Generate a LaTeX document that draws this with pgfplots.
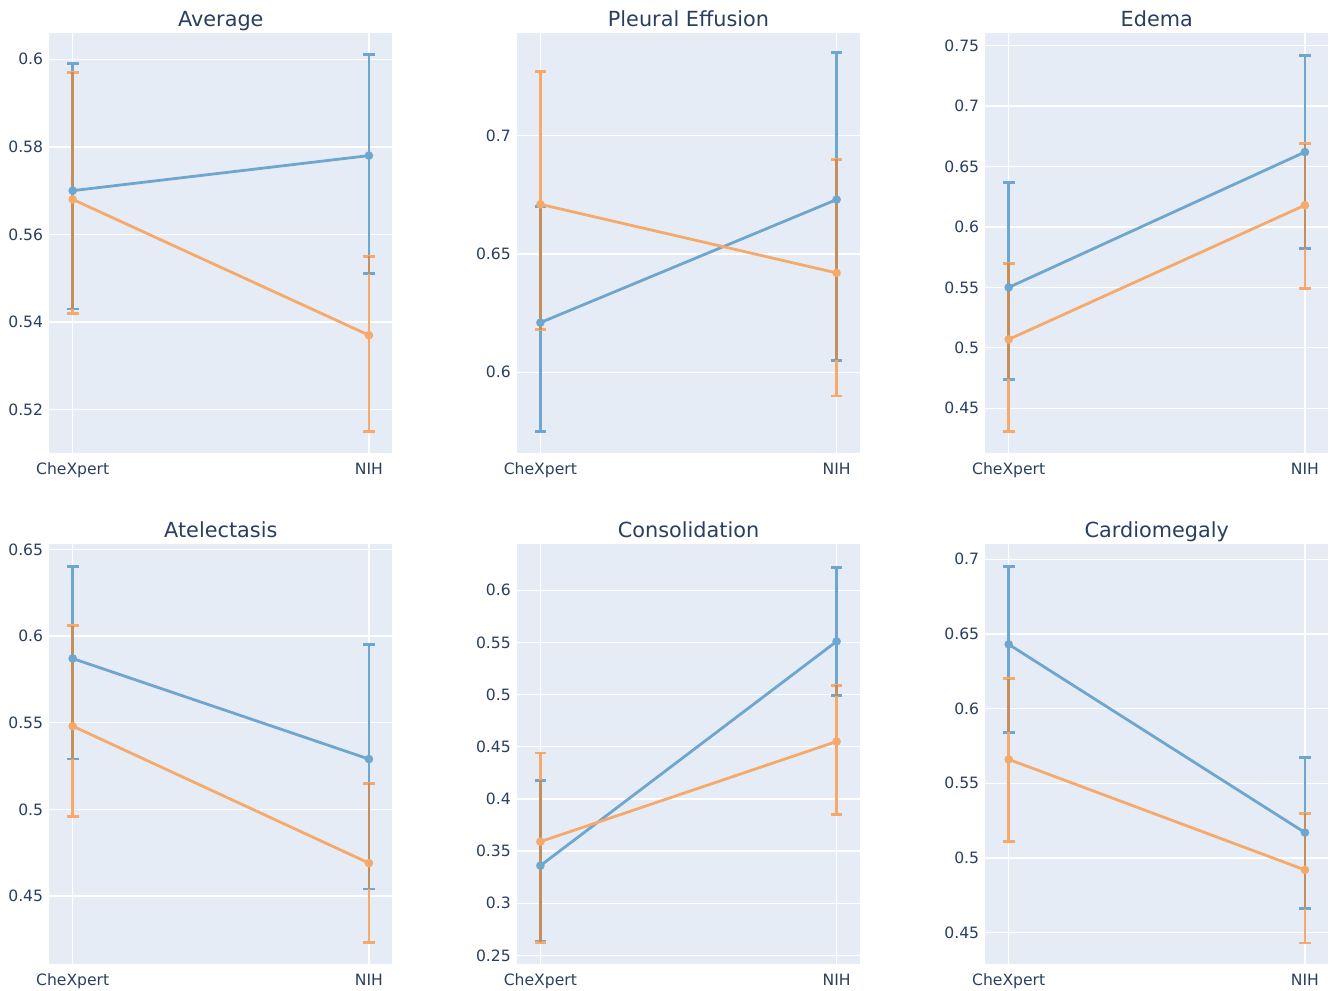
\documentclass[border=0pt]{standalone}
\usepackage{fontspec}
\setmainfont{DejaVu Sans}
\usepackage{pgfplots}
\usepackage{pgfplotstable}
\pgfplotsset{compat=1.18}
\definecolor{plotbg}{HTML}{E5ECF6}
\definecolor{txt}{HTML}{2A3F5F}
\definecolor{cb}{RGB}{110,166,206}
\definecolor{co}{RGB}{245,170,107}
\definecolor{cov}{RGB}{197,143,91}
\newcommand\ticksize{\fontsize{15.6bp}{18bp}\selectfont}
\newcommand\titlesize{\fontsize{20.8bp}{24bp}\selectfont}

% x: 0 = CheXpert, 1 = NIH ; columns: value, lower, upper
\pgfplotstableread[row sep=\\]{x y lo hi\\ 0 0.570 0.543 0.599\\ 1 0.578 0.551 0.601\\}\AvgB
\pgfplotstableread[row sep=\\]{x y lo hi\\ 0 0.568 0.542 0.597\\ 1 0.537 0.515 0.555\\}\AvgO
\pgfplotstableread[row sep=\\]{x y lo hi\\ 0 0.621 0.575 0.670\\ 1 0.673 0.605 0.735\\}\PleB
\pgfplotstableread[row sep=\\]{x y lo hi\\ 0 0.671 0.618 0.727\\ 1 0.642 0.590 0.690\\}\PleO
\pgfplotstableread[row sep=\\]{x y lo hi\\ 0 0.550 0.474 0.637\\ 1 0.662 0.582 0.742\\}\EdeB
\pgfplotstableread[row sep=\\]{x y lo hi\\ 0 0.507 0.431 0.570\\ 1 0.618 0.549 0.669\\}\EdeO
\pgfplotstableread[row sep=\\]{x y lo hi\\ 0 0.587 0.529 0.640\\ 1 0.529 0.454 0.595\\}\AteB
\pgfplotstableread[row sep=\\]{x y lo hi\\ 0 0.548 0.496 0.606\\ 1 0.469 0.423 0.515\\}\AteO
\pgfplotstableread[row sep=\\]{x y lo hi\\ 0 0.336 0.263 0.418\\ 1 0.551 0.499 0.622\\}\ConB
\pgfplotstableread[row sep=\\]{x y lo hi\\ 0 0.359 0.262 0.444\\ 1 0.455 0.385 0.509\\}\ConO
\pgfplotstableread[row sep=\\]{x y lo hi\\ 0 0.643 0.584 0.695\\ 1 0.517 0.466 0.567\\}\CarB
\pgfplotstableread[row sep=\\]{x y lo hi\\ 0 0.566 0.511 0.620\\ 1 0.492 0.443 0.530\\}\CarO
% overlap of the two error bars (drawn darker, as the translucent orange over blue)
\pgfplotstableread[row sep=\\]{x y\\ 0 0.543\\ 0 0.597\\ nan nan\\ 1 0.551\\ 1 0.555\\}\AvgV
\pgfplotstableread[row sep=\\]{x y\\ 0 0.618\\ 0 0.670\\ nan nan\\ 1 0.605\\ 1 0.690\\}\PleV
\pgfplotstableread[row sep=\\]{x y\\ 0 0.474\\ 0 0.570\\ nan nan\\ 1 0.582\\ 1 0.669\\}\EdeV
\pgfplotstableread[row sep=\\]{x y\\ 0 0.529\\ 0 0.606\\ nan nan\\ 1 0.454\\ 1 0.515\\}\AteV
\pgfplotstableread[row sep=\\]{x y\\ 0 0.263\\ 0 0.418\\ nan nan\\ 1 0.499\\ 1 0.509\\}\ConV
\pgfplotstableread[row sep=\\]{x y\\ 0 0.584\\ 0 0.620\\ nan nan\\ 1 0.466\\ 1 0.530\\}\CarV

\pgfplotsset{
  panel/.style={
    width=343bp, height=420bp, scale only axis, anchor=south west,
    xmin=-0.079, xmax=1.079, xtick={0,1}, xticklabels={CheXpert,NIH},
    axis background/.style={fill=plotbg},
    axis line style={draw=none},
    major tick length=0pt,
    grid=major, major grid style={white, line width=1.3bp},
    tick label style={font=\ticksize, text=txt},
    xticklabel style={anchor=base, yshift=-21.3bp},
    yticklabel style={anchor=east, inner sep=0pt, xshift=-6bp},
    title style={font=\titlesize, text=txt, at={(0.5,1)}, anchor=base, yshift=0.5bp, inner sep=0pt},
    unbounded coords=jump,
  },
  tr/.style={color=#1, line width=2.8bp, line join=round, mark=*, mark size=4.2bp,
    mark options={solid, draw=#1, line width=0.1bp, fill=#1},
    error bars/.cd, y dir=both, y explicit,
    error bar style={line width=2.8bp, draw=#1, solid},
    error mark options={rotate=90, draw=#1, line width=2.8bp, mark size=5.8bp, solid}},
  ov/.style={color=cov, line width=2.8bp, mark=none, line cap=butt, forget plot},
}
\newcommand\series[3]{%
  \addplot[tr=cb] table[x=x, y=y, y error plus expr=\thisrow{hi}-\thisrow{y}, y error minus expr=\thisrow{y}-\thisrow{lo}] {#1};
  \addplot[tr=co] table[x=x, y=y, y error plus expr=\thisrow{hi}-\thisrow{y}, y error minus expr=\thisrow{y}-\thisrow{lo}] {#2};
  \addplot[ov] table[x=x, y=y] {#3};
}

\begin{document}
\begin{tikzpicture}
\path[use as bounding box, fill=white] (0bp,0bp) rectangle (1335bp,991bp);

\begin{axis}[panel, at={(49.3bp,538bp)}, title={Average}, ymin=0.5101, ymax=0.606,
  ytick={0.52,0.54,0.56,0.58,0.6}, yticklabels={0.52,0.54,0.56,0.58,0.6}]
\series{\AvgB}{\AvgO}{\AvgV}
\end{axis}

\begin{axis}[panel, at={(517bp,538bp)}, title={Pleural Effusion}, ymin=0.5659, ymax=0.7434,
  ytick={0.6,0.65,0.7}, yticklabels={0.6,0.65,0.7}]
\series{\PleB}{\PleO}{\PleV}
\end{axis}

\begin{axis}[panel, at={(985.3bp,538bp)}, title={Edema}, ymin=0.413, ymax=0.7605,
  ytick={0.45,0.5,0.55,0.6,0.65,0.7,0.75}, yticklabels={0.45,0.5,0.55,0.6,0.65,0.7,0.75}]
\series{\EdeB}{\EdeO}{\EdeV}
\end{axis}

\begin{axis}[panel, at={(49.3bp,26.7bp)}, title={Atelectasis}, ymin=0.4106, ymax=0.6529,
  ytick={0.45,0.5,0.55,0.6,0.65}, yticklabels={0.45,0.5,0.55,0.6,0.65}]
\series{\AteB}{\AteO}{\AteV}
\end{axis}

\begin{axis}[panel, at={(517bp,26.7bp)}, title={Consolidation}, ymin=0.2414, ymax=0.6441,
  ytick={0.25,0.3,0.35,0.4,0.45,0.5,0.55,0.6}, yticklabels={0.25,0.3,0.35,0.4,0.45,0.5,0.55,0.6}]
\series{\ConB}{\ConO}{\ConV}
\end{axis}

\begin{axis}[panel, at={(985.3bp,26.7bp)}, title={Cardiomegaly}, ymin=0.4288, ymax=0.71,
  ytick={0.45,0.5,0.55,0.6,0.65,0.7}, yticklabels={0.45,0.5,0.55,0.6,0.65,0.7}]
\series{\CarB}{\CarO}{\CarV}
\end{axis}
\end{tikzpicture}
\end{document}
